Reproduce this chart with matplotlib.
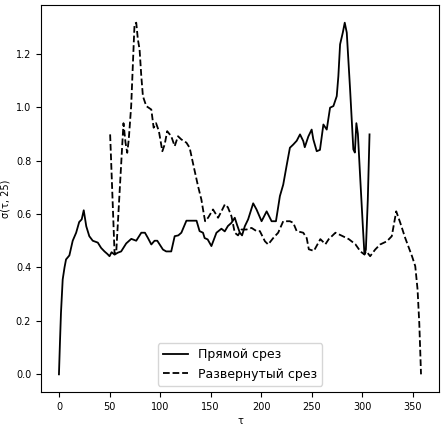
import matplotlib
matplotlib.use('Agg')
import matplotlib.pyplot as plt
import numpy as np

# Прямой срез
tau_direct = [0, 1, 2, 3.7, 5.5, 7, 10.3, 13.6, 17, 20, 22.5, 24.5, 27, 30, 33.4, 38.4,
              41.7, 45, 48, 50, 52, 55, 58, 61.5, 66.5, 71.5, 76.4, 81.4, 85, 88, 91.3,
              94.5, 97.2, 102.8, 106, 111, 114.4, 118, 121, 126, 131, 136, 139, 142.4,
              144, 147, 150.7, 155.7, 160.6, 163.9, 167, 170.5, 173.8, 176, 178.8, 181,
              183.7, 187, 192, 195.3, 200.3, 205.3, 210.2, 214.5, 215.8, 218.4, 221.7,
              225, 228.3, 231.6, 235, 238.3, 241.5, 243, 246.5, 249.8, 251.4, 254.8, 258,
              261.4, 264.7, 268, 271.3, 274.6, 276.2, 277.9, 280.6, 282.5, 284.5, 287.8,
              291, 292.5, 294, 295.5, 297.7, 300.4, 302, 303.4, 305.3, 307]
val_direct = [0.0, 0.12, 0.23, 0.355, 0.40, 0.43, 0.445, 0.50, 0.53, 0.57, 0.58, 0.614,
              0.554, 0.517, 0.50, 0.493, 0.473, 0.46, 0.45, 0.442, 0.457, 0.448, 0.455,
              0.46, 0.49, 0.507, 0.50, 0.53, 0.53, 0.51, 0.486, 0.50, 0.50, 0.467, 0.46,
              0.46, 0.517, 0.52, 0.53, 0.575, 0.575, 0.575, 0.536, 0.53, 0.51, 0.505,
              0.48, 0.53, 0.545, 0.535, 0.555, 0.567, 0.586, 0.56, 0.53, 0.52, 0.554,
              0.58, 0.64, 0.617, 0.573, 0.61, 0.573, 0.573, 0.604, 0.667, 0.71, 0.78,
              0.848, 0.86, 0.874, 0.898, 0.873, 0.85, 0.89, 0.916, 0.88, 0.835, 0.84,
              0.935, 0.916, 0.998, 1.004, 1.041, 1.116, 1.235, 1.279, 1.316, 1.279,
              1.066, 0.842, 0.83, 0.94, 0.9, 0.742, 0.554, 0.448, 0.467, 0.654, 0.898]

# Развернутый срез
tau_rev = [50.6, 55, 56.6, 62.5, 63.8, 65.8, 67.5, 69, 71.4, 73, 74.7, 76.4, 78, 79.7,
           81.4, 83, 86.3, 91.3, 93.6, 96, 98.8, 102.2, 104.5, 107, 111, 114.4, 117.7,
           121, 126, 129.2, 132.5, 137.5, 140.8, 143, 144.5, 147.4, 152.3, 157.3, 160.6,
           164, 167, 170.5, 173.8, 177, 180.5, 185.4, 190.4, 195.3, 198.6, 203.6, 206.8,
           211.8, 216.7, 221.7, 228.3, 231.6, 235, 241.5, 244.9, 247, 252, 258.4, 263.4,
           266.7, 273.3, 280, 286.5, 293, 298, 301.4, 304, 307.6, 312.6, 317.5, 324.2,
           329, 333.4, 337.4, 342.3, 349, 352.2, 354.5, 356.2, 357.2, 357.9]
val_rev = [0.898, 0.45, 0.455, 0.854, 0.94, 0.867, 0.829, 0.879, 1.004, 1.153, 1.31,
           1.316, 1.254, 1.216, 1.116, 1.041, 1.004, 0.991, 0.923, 0.94, 0.91, 0.835,
           0.86, 0.91, 0.891, 0.854, 0.891, 0.879, 0.867, 0.848, 0.79, 0.704, 0.654,
           0.604, 0.573, 0.586, 0.617, 0.586, 0.61, 0.636, 0.625, 0.592, 0.53, 0.52,
           0.542, 0.542, 0.548, 0.536, 0.536, 0.498, 0.486, 0.51, 0.53, 0.573, 0.573,
           0.567, 0.536, 0.53, 0.51, 0.468, 0.462, 0.506, 0.487, 0.506, 0.53, 0.518,
           0.506, 0.487, 0.46, 0.45, 0.46, 0.442, 0.467, 0.486, 0.498, 0.517, 0.61,
           0.567, 0.51, 0.442, 0.405, 0.317, 0.19, 0.08, 0.0]

fig = plt.figure(figsize=(4.44, 4.26), dpi=100)
ax = fig.add_axes([0.092, 0.08, 0.897, 0.908])

ax.plot(tau_direct, val_direct, color='k', lw=1.3, label='Прямой срез')
ax.plot(tau_rev, val_rev, color='k', lw=1.3, ls='--', label='Развернутый срез')

ax.set_xticks(np.arange(0, 351, 50))
ax.set_yticks(np.arange(0, 1.21, 0.2))
ax.tick_params(labelsize=7)
ax.set_xlabel('τ', fontsize=7, labelpad=3)
ax.set_ylabel('σ(τ, 25)', fontsize=7, labelpad=4)
ax.legend(loc='lower center', fontsize=9)

plt.savefig('out.png', dpi=100)
